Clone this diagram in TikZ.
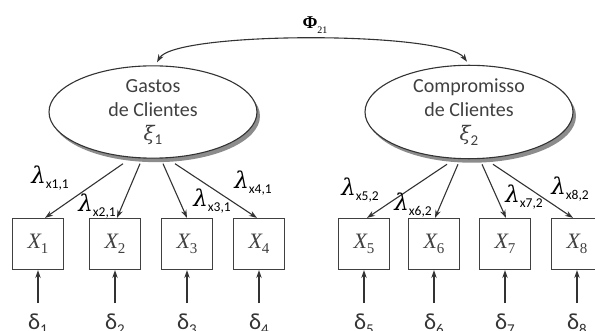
\documentclass[tikz,border=0pt]{standalone}
\usepackage{fontspec}
\setmainfont{Carlito}
\newfontfamily\serifgr{Liberation Serif}
\newfontfamily\greekit{DejaVu Serif}
\usetikzlibrary{shapes.geometric,shadows,arrows.meta,calc}

% loading label: lambda with a lowered sans subscript
\newcommand\lamlbl[2]{{\greekit\itshape\fontsize{23}{23}\selectfont λ}\raisebox{-0.6ex}{\fontsize{13.5}{13.5}\selectfont x#1,#2}}
% error term label
\newcommand\errlbl[1]{δ\raisebox{-0.5ex}{\fontsize{15}{15}\selectfont #1}}
% latent variable symbol
\newcommand\xilbl[1]{{\greekit\itshape ξ}\raisebox{-0.45ex}{\fontsize{15}{15}\selectfont #1}}
% observed variable name
\newcommand\obslbl[1]{{\serifgr\itshape X}\raisebox{-0.45ex}{\serifgr\fontsize{15}{15}\selectfont #1}}

\begin{document}
\begin{tikzpicture}[x=1pt,y=-1pt,
  latent/.style={ellipse, draw=black!80, line width=1.1pt, fill=white,
    minimum width=208pt, minimum height=75pt, inner sep=0pt, align=center,
    font=\fontsize{20}{24}\selectfont, text=black!75,
    drop shadow={shadow xshift=3pt, shadow yshift=-4pt, fill=black!45, opacity=1}},
  obs/.style={rectangle, draw=black!75, line width=1.2pt, minimum width=51pt,
    minimum height=51pt, inner sep=0pt, font=\fontsize{22}{22}\selectfont, text=black!75},
  load/.style={line width=1.1pt, draw=black!80, -{Stealth[length=8pt,width=5.5pt]}},
  lbl/.style={font=\fontsize{19}{19}\selectfont, inner sep=0pt, text=black},
  errtext/.style={font=\fontsize{23}{23}\selectfont, inner sep=0pt, anchor=base west, text=black!80}]

\useasboundingbox (0,0) rectangle (595,331);

% latent variables
\node[latent] (g) at (153,112) {Gastos\\de Clientes\\\xilbl{1}};
\node[latent] (c) at (469,112) {Compromisso\\de Clientes\\\xilbl{2}};

% covariance between the factors
\draw[line width=1.1pt, draw=black!80, {Stealth[length=8pt,width=5.5pt]}-{Stealth[length=8pt,width=5.5pt]}]
  ($(g.north)+(4,-3)$) .. controls (175,31) and (445,31) .. ($(c.north)+(-2,-3)$);
\node[lbl, font=\fontsize{18}{18}\selectfont] (phi) at (315,25)
  {{\serifgr\bfseries Φ}\raisebox{-0.6ex}{\serifgr\fontsize{10}{10}\selectfont 21}};

% indicators
\foreach \i/\x in {1/38,2/115,3/187,4/259,5/364,6/434,7/505,8/577}{
  \node[obs] (x\i) at (\x,244) {\obslbl{\i}};
  \coordinate (e\i) at ($(x\i.south)+(0,33)$);
  \draw[load] (e\i) -- (x\i.south);
  \node[errtext] (d\i) at ($(x\i.south)+(-10,59)$) {\errlbl{\i}};
}

% loadings of factor 1
\draw[load] ($(g.south)+(-30,5)$) -- ($(x1.north)+(7,0)$);
\draw[load] ($(g.south)+(-13,5)$) -- ($(x2.north)+(2,0)$);
\draw[load] ($(g.south)+(10,5)$)  -- (x3.north);
\draw[load] ($(g.south)+(22,5)$)  -- ($(x4.north)+(-2,0)$);

% loadings of factor 2
\draw[load] ($(c.south)+(-22,5)$) -- ($(x5.north)+(3,0)$);
\draw[load] ($(c.south)+(-11,5)$) -- ($(x6.north)+(1,0)$);
\draw[load] ($(c.south)+(13,5)$)  -- ($(x7.north)+(1,0)$);
\draw[load] ($(c.south)+(24,5)$)  -- ($(x8.north)+(-4,0)$);

% loading labels
\node[lbl] (l1) at (50,178)  {\lamlbl{1}{1}};
\node[lbl] (l2) at (97,206)  {\lamlbl{2}{1}};
\node[lbl] (l3) at (212,201) {\lamlbl{3}{1}};
\node[lbl] (l4) at (253,183) {\lamlbl{4}{1}};
\node[lbl] (l5) at (360,190) {\lamlbl{5}{2}};
\node[lbl] (l6) at (413,205) {\lamlbl{6}{2}};
\node[lbl] (l7) at (524,197) {\lamlbl{7}{2}};
\node[lbl] (l8) at (570,189) {\lamlbl{8}{2}};
\end{tikzpicture}
\end{document}
